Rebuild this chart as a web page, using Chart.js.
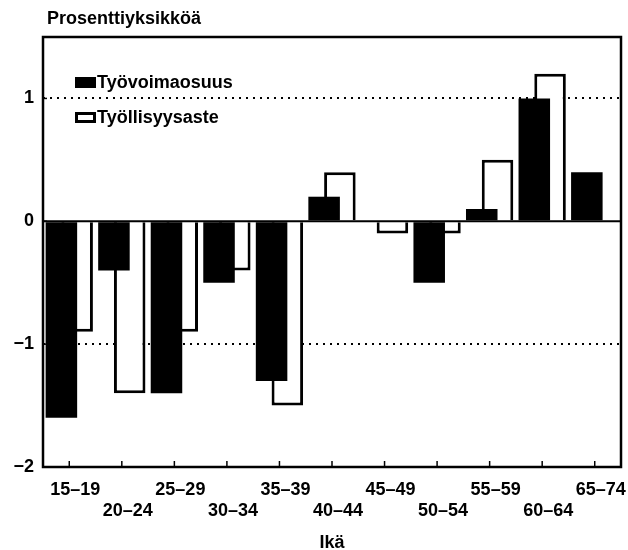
<!DOCTYPE html>
<html><head><meta charset="utf-8">
<script src="https://cdn.jsdelivr.net/npm/chart.js@4/dist/chart.umd.min.js"></script>
<style>html,body{margin:0;padding:0;background:#fff}canvas{display:block}</style>
</head><body>
<canvas id="c" width="628" height="550"></canvas>
<script>
const categories = ['15–19','20–24','25–29','30–34','35–39','40–44','45–49','50–54','55–59','60–64','65–74'];
const tyovoimaosuus = [-1.6, -0.4, -1.4, -0.5, -1.3, 0.2, 0, -0.5, 0.1, 1.0, 0.4];
const tyollisyysaste = [-0.9, -1.4, -0.9, -0.4, -1.5, 0.4, -0.1, -0.1, 0.5, 1.2, 0];
const yTickValues = [-2, -1, 0, 1];
const seriesNames = ['Työvoimaosuus', 'Työllisyysaste'];
const yTitle = 'Prosenttiyksikköä';
const xTitle = 'Ikä';

const FONT = "'Liberation Sans Narrow','Liberation Sans',Arial,sans-serif";
const FS = 18;

const decor = {
  id: 'decor',
  afterLayout(chart) {
    const t = chart.titleBlock;
    if (t) { t.left = 47; }
  },
  afterDatasetsDraw(chart) {
    const {ctx, chartArea: a, scales: {x, y}} = chart;
    ctx.save();
    ctx.strokeStyle = '#000';
    const y0 = y.getPixelForValue(0);
    ctx.lineWidth = 2;
    ctx.beginPath(); ctx.moveTo(a.left, y0); ctx.lineTo(a.right, y0); ctx.stroke();
    ctx.lineWidth = 1.5;
    categories.forEach((c, i) => {
      const px = x.getPixelForValue(i);
      ctx.beginPath(); ctx.moveTo(px, a.bottom); ctx.lineTo(px, a.bottom - 6); ctx.stroke();
    });
    yTickValues.forEach(v => {
      const py = y.getPixelForValue(v);
      ctx.beginPath(); ctx.moveTo(a.left, py); ctx.lineTo(a.left + 4, py); ctx.stroke();
    });
    ctx.lineWidth = 2.5;
    ctx.strokeRect(a.left, a.top, a.right - a.left, a.bottom - a.top);
    ctx.font = "bold " + FS + "px " + FONT;
    ctx.textBaseline = 'middle';
    ctx.textAlign = 'left';
    ctx.fillStyle = '#000';
    const ds = chart.data.datasets;
    ctx.fillRect(75, 77, 21, 11);
    ctx.fillText(ds[0].label, 97, 83);
    ctx.lineWidth = 3;
    ctx.strokeRect(76.5, 113.5, 18, 8);
    ctx.fillText(ds[1].label, 97, 118);
    ctx.restore();
  }
};

new Chart(document.getElementById('c'), {
  type: 'bar',
  data: {
    labels: categories,
    datasets: [
      { label: seriesNames[0], data: tyovoimaosuus, backgroundColor: '#000', borderWidth: 0,
        barPercentage: 2.0, categoryPercentage: 0.6 },
      { label: seriesNames[1], data: tyollisyysaste, backgroundColor: '#fff', borderColor: '#000', borderWidth: 3,
        barPercentage: 2.0, categoryPercentage: 0.6 }
    ]
  },
  options: {
    responsive: false,
    animation: false,
    devicePixelRatio: 1,
    layout: { padding: { left: 0, right: 7, top: 0, bottom: 0 } },
    plugins: {
      legend: { display: false },
      tooltip: { enabled: false },
      title: { display: true, text: yTitle, align: 'start', color: '#000',
        font: { family: FONT, size: FS, weight: 'bold', lineHeight: 1.2 },
        padding: { top: 8, bottom: 7.4 } }
    },
    scales: {
      x: {
        grid: { display: false, drawTicks: false, tickLength: 0 },
        border: { display: false },
        ticks: {
          color: '#000', padding: 12, labelOffset: 6, maxRotation: 0, autoSkip: false,
          font: { family: FONT, size: FS, weight: 'bold', lineHeight: 1.2 },
          callback: (v, i) => i % 2 === 0 ? [categories[i]] : ['', categories[i]]
        },
        title: { display: true, text: xTitle, color: '#000',
          font: { family: FONT, size: FS, weight: 'bold', lineHeight: 1.0 },
          padding: { top: 0, bottom: -2 } },
        afterFit: s => { s.height = 83; s.paddingLeft = 0; s.paddingRight = 0; }
      },
      y: {
        min: -2, max: 1.5,
        afterBuildTicks: s => { s.ticks = yTickValues.map(v => ({ value: v })); },
        grid: {
          drawTicks: false, tickLength: 0,
          color: c => (c.tick && (c.tick.value === 1 || c.tick.value === -1)) ? '#000' : 'rgba(0,0,0,0)',
          lineWidth: 2
        },
        border: { display: false, dash: [2, 5] },
        ticks: {
          color: '#000', padding: 9,
          font: { family: FONT, size: FS, weight: 'bold' },
          callback: v => v === 0 ? '0' : (v < 0 ? '−' + Math.abs(v) : String(v))
        },
        afterFit: s => { s.width = 43; s.paddingTop = 0; s.paddingBottom = 0; }
      }
    }
  },
  plugins: [decor]
});
</script>
</body></html>
